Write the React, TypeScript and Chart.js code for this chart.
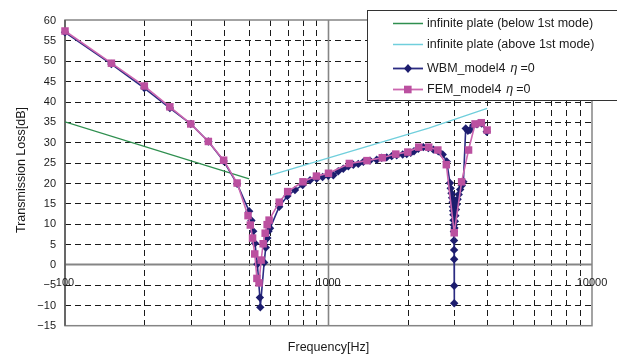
import React, { useEffect, useRef } from "react";
import { Chart, registerables } from "chart.js";

Chart.register(...registerables);

// Mass-law lines for an infinite plate
const belowFreq = [100, 500];
const belowTL = [35.0, 21.0];
const aboveFreq = [600, 2400, 4000];
const aboveTL = [21.9, 33.5, 38.3];

// Wave based model (model 4, no damping)
const wbmFreq = [
  100, 150, 200, 250, 300, 350, 400, 450, 500, 510, 518, 526, 537, 549, 551, 570,
  578, 586, 592, 600, 650, 698, 746, 798, 851, 902, 950, 998, 1043, 1089, 1138,
  1189, 1242, 1297, 1356, 1437, 1524, 1592, 1663, 1737, 1815, 1912, 1981, 2051,
  2111, 2192, 2290, 2392, 2499, 2609, 2713, 2810, 2891, 2909, 2930, 2945, 2958,
  2966, 2972, 2978, 2983, 2988, 2992, 2995, 2997, 2998, 2999, 3000, 3006, 3018,
  3030, 3045, 3065, 3090, 3120, 3160, 3205, 3250, 3317, 3380, 3444, 3544, 3660,
  3814, 3985,
];
const wbmTL = [
  57.0, 49.2, 43.3, 38.4, 34.5, 30.2, 25.4, 19.8, 13.1, 10.8, 8.2, 5.2, 0.1, -8.1,
  -10.5, 0.5, 4.2, 6.5, 8.2, 8.9, 14.2, 16.8, 18.3, 19.5, 20.7, 21.1, 21.5, 21.8,
  21.9, 22.9, 23.5, 24.1, 24.5, 24.7, 25.2, 25.5, 25.7, 26.2, 26.3, 26.6, 26.8,
  27.0, 27.1, 27.4, 27.8, 28.4, 28.8, 28.6, 28.2, 27.8, 27.0, 25.3, 20.0, 18.7,
  17.5, 16.4, 15.3, 14.2, 13.2, 12.2, 10.9, 9.7, 8.1, 5.9, 3.6, 1.3, -5.2, -9.5,
  9.0, 10.6, 12.0, 13.5, 14.8, 16.0, 17.2, 18.4, 19.4, 20.3, 33.4, 32.8, 33.0,
  34.2, 34.4, 34.6, 32.6,
];

// Finite element model (model 4, no damping)
const femFreq = [
  100, 150, 200, 250, 300, 350, 400, 450, 495, 505, 515, 525, 535, 545, 555, 565,
  575, 585, 595, 650, 700, 800, 900, 1000, 1200, 1400, 1600, 1800, 2000, 2200,
  2400, 2600, 2800, 3000, 3200, 3400, 3600, 3800, 4000,
];
const femTL = [
  57.3, 49.4, 43.8, 38.7, 34.5, 30.2, 25.6, 20.0, 12.0, 9.7, 6.5, 2.6, -3.4, -4.5,
  1.1, 5.1, 7.7, 9.8, 10.9, 15.3, 17.9, 20.3, 21.7, 22.4, 24.8, 25.5, 26.2, 27.1,
  27.6, 28.8, 28.8, 28.1, 24.5, 7.8, 20.3, 28.1, 34.5, 34.8, 33.0,
];

// Axis labels
const yTicks = [-15, -10, -5, 0, 5, 10, 15, 20, 25, 30, 35, 40, 45, 50, 55, 60];
const xTickLabels = ["100", "1000", "10000"];
const xTickValues = [100, 1000, 10000];
const minorFreqs = [200, 300, 400, 500, 600, 700, 800, 900, 2000, 3000, 4000, 5000, 6000, 7000, 8000, 9000];

const legendLabels = [
  "infinite plate (below 1st mode)",
  "infinite plate (above 1st mode)",
  "WBM_model4",
  "FEM_model4",
];

const GREEN = "#2f8f4f";
const CYAN = "#70cfdc";
const NAVY_LINE = "#2b2b82";
const NAVY_PT = "#1d1d6e";
const PINK_LINE = "#cc66b0";
const PINK_PT = "#bb50a0";
const FONT = "'Liberation Sans', Arial, sans-serif";

const pts = (fs: number[], vs: number[]) => fs.map((f, i) => ({ x: f, y: vs[i] }));

const framePlugin = {
  id: "plotFrame",
  beforeDatasetsDraw(chart: any) {
    const { ctx, chartArea: a, scales } = chart;
    const xs = scales.x;
    const ys = scales.y;
    ctx.save();
    ctx.fillStyle = "#ffffff";
    ctx.lineWidth = 1;
    ctx.strokeStyle = "#1a1a1a";
    ctx.setLineDash([6, 4]);
    for (const v of yTicks) {
      if (v === 0 || v === 60 || v === -15) continue;
      const py = Math.round(ys.getPixelForValue(v)) + 0.5;
      ctx.beginPath();
      ctx.moveTo(a.left, py);
      ctx.lineTo(a.right, py);
      ctx.stroke();
    }
    for (const f of minorFreqs) {
      const px = Math.round(xs.getPixelForValue(f)) + 0.5;
      ctx.beginPath();
      ctx.moveTo(px, a.top);
      ctx.lineTo(px, a.bottom);
      ctx.stroke();
    }
    ctx.setLineDash([]);
    ctx.strokeStyle = "#858585";
    ctx.lineWidth = 1.6;
    const p1000 = xs.getPixelForValue(1000);
    ctx.beginPath();
    ctx.moveTo(p1000, a.top);
    ctx.lineTo(p1000, a.bottom);
    ctx.stroke();
    const y0 = ys.getPixelForValue(0);
    ctx.lineWidth = 2;
    ctx.beginPath();
    ctx.moveTo(a.left, y0);
    ctx.lineTo(a.right, y0);
    ctx.stroke();
    ctx.lineWidth = 1.5;
    ctx.strokeRect(a.left, a.top, a.right - a.left, a.bottom - a.top);
    ctx.strokeStyle = "#555555";
    ctx.beginPath();
    ctx.moveTo(a.left, a.top);
    ctx.lineTo(a.left, a.bottom);
    ctx.stroke();
    ctx.restore();
  },
  afterDatasetsDraw(chart: any) {
    const { ctx, chartArea: a, scales } = chart;
    const xs = scales.x;
    const ys = scales.y;
    ctx.save();
    ctx.fillStyle = "#1a1a1a";
    ctx.font = `11px ${FONT}`;
    ctx.textAlign = "right";
    ctx.textBaseline = "middle";
    for (const v of yTicks) {
      const label = v < 0 ? "\u2212" + Math.abs(v) : String(v);
      ctx.fillText(label, 56, ys.getPixelForValue(v) + 0.5);
    }
    ctx.textAlign = "center";
    const y0 = ys.getPixelForValue(0);
    xTickValues.forEach((f, i) => {
      ctx.fillText(xTickLabels[i], xs.getPixelForValue(f), y0 + 18);
    });

    ctx.font = `12.5px ${FONT}`;
    ctx.fillText("Frequency[Hz]", (a.left + a.right) / 2, 348);
    ctx.save();
    ctx.translate(22, 170);
    ctx.rotate(-Math.PI / 2);
    ctx.fillText("Transmission Loss[dB]", 0, 0);
    ctx.restore();

    // legend box
    ctx.fillStyle = "#ffffff";
    ctx.fillRect(368, 10, 260, 90);
    ctx.strokeStyle = "#333333";
    ctx.lineWidth = 1;
    ctx.strokeRect(367.5, 10.5, 260, 90);

    const rows = [23.5, 44.5, 68.5, 89.5];
    const colors = [GREEN, CYAN, NAVY_LINE, PINK_LINE];
    rows.forEach((ry, i) => {
      ctx.strokeStyle = colors[i];
      ctx.lineWidth = i < 2 ? 1.5 : 1.8;
      ctx.beginPath();
      ctx.moveTo(393, ry);
      ctx.lineTo(423, ry);
      ctx.stroke();
      if (i === 2) {
        ctx.fillStyle = NAVY_PT;
        ctx.beginPath();
        ctx.moveTo(404, ry);
        ctx.lineTo(408, ry - 4.5);
        ctx.lineTo(412, ry);
        ctx.lineTo(408, ry + 4.5);
        ctx.closePath();
        ctx.fill();
      } else if (i === 3) {
        ctx.fillStyle = PINK_PT;
        ctx.fillRect(404, ry - 3.8, 7.6, 7.6);
      }
      ctx.fillStyle = "#1a1a1a";
      ctx.textAlign = "left";
      ctx.textBaseline = "middle";
      ctx.font = `12.5px ${FONT}`;
      let tx = 427;
      ctx.fillText(legendLabels[i], tx, ry);
      if (i >= 2) {
        tx += ctx.measureText(legendLabels[i]).width + 5;
        ctx.font = `italic 12.5px ${FONT}`;
        ctx.fillText("\u03b7", tx, ry);
        tx += ctx.measureText("\u03b7").width + 3;
        ctx.font = `12.5px ${FONT}`;
        ctx.fillText("=0", tx, ry);
      }
    });
    ctx.restore();
  },
};

const bgPlugin = {
  id: "whiteBg",
  beforeDraw(chart: any) {
    const { ctx, width, height } = chart;
    ctx.save();
    ctx.fillStyle = "#ffffff";
    ctx.fillRect(0, 0, width, height);
    ctx.restore();
  },
};

export default function App() {
  const canvasRef = useRef<HTMLCanvasElement | null>(null);

  useEffect(() => {
    if (!canvasRef.current) return;
    const chart = new Chart(canvasRef.current, {
      type: "line",
      data: {
        datasets: [
          {
            label: legendLabels[3],
            data: pts(femFreq, femTL),
            borderColor: PINK_LINE,
            borderWidth: 1.6,
            pointStyle: "rect",
            pointRadius: 5.3,
            pointBackgroundColor: PINK_PT,
            pointBorderColor: PINK_PT,
            pointBorderWidth: 0,
            order: 0,
            clip: false as any,
          },
          {
            label: legendLabels[2],
            data: pts(wbmFreq, wbmTL),
            borderColor: NAVY_LINE,
            borderWidth: 1.6,
            pointStyle: "rectRot",
            pointRadius: 4.2,
            pointBackgroundColor: NAVY_PT,
            pointBorderColor: NAVY_PT,
            pointBorderWidth: 0,
            order: 1,
            clip: false as any,
          },
          {
            label: legendLabels[1],
            data: pts(aboveFreq, aboveTL),
            borderColor: CYAN,
            borderWidth: 1.3,
            pointRadius: 0,
            order: 2,
          },
          {
            label: legendLabels[0],
            data: pts(belowFreq, belowTL),
            borderColor: GREEN,
            borderWidth: 1.3,
            pointRadius: 0,
            order: 3,
          },
        ],
      },
      options: {
        responsive: false,
        animation: false,
        layout: { padding: { left: 0, top: 20, right: 25, bottom: 0 } },
        plugins: { legend: { display: false }, tooltip: { enabled: false } },
        elements: { line: { tension: 0 } },
        scales: {
          x: {
            type: "logarithmic",
            min: 100,
            max: 10000,
            ticks: { display: false },
            grid: { display: false },
            border: { display: false },
            afterFit: (s: any) => {
              s.height = 31.3;
            },
          },
          y: {
            type: "linear",
            min: -15,
            max: 60,
            ticks: { display: false, stepSize: 5 },
            grid: { display: false },
            border: { display: false },
            afterFit: (s: any) => {
              s.width = 65;
            },
          },
        },
      },
      plugins: [bgPlugin, framePlugin],
    });
    return () => chart.destroy();
  }, []);

  return (
    <div style={{ position: "fixed", left: 0, top: 0, width: 617, height: 357, background: "#fff" }}>
      <canvas ref={canvasRef} width={617} height={357} />
    </div>
  );
}
